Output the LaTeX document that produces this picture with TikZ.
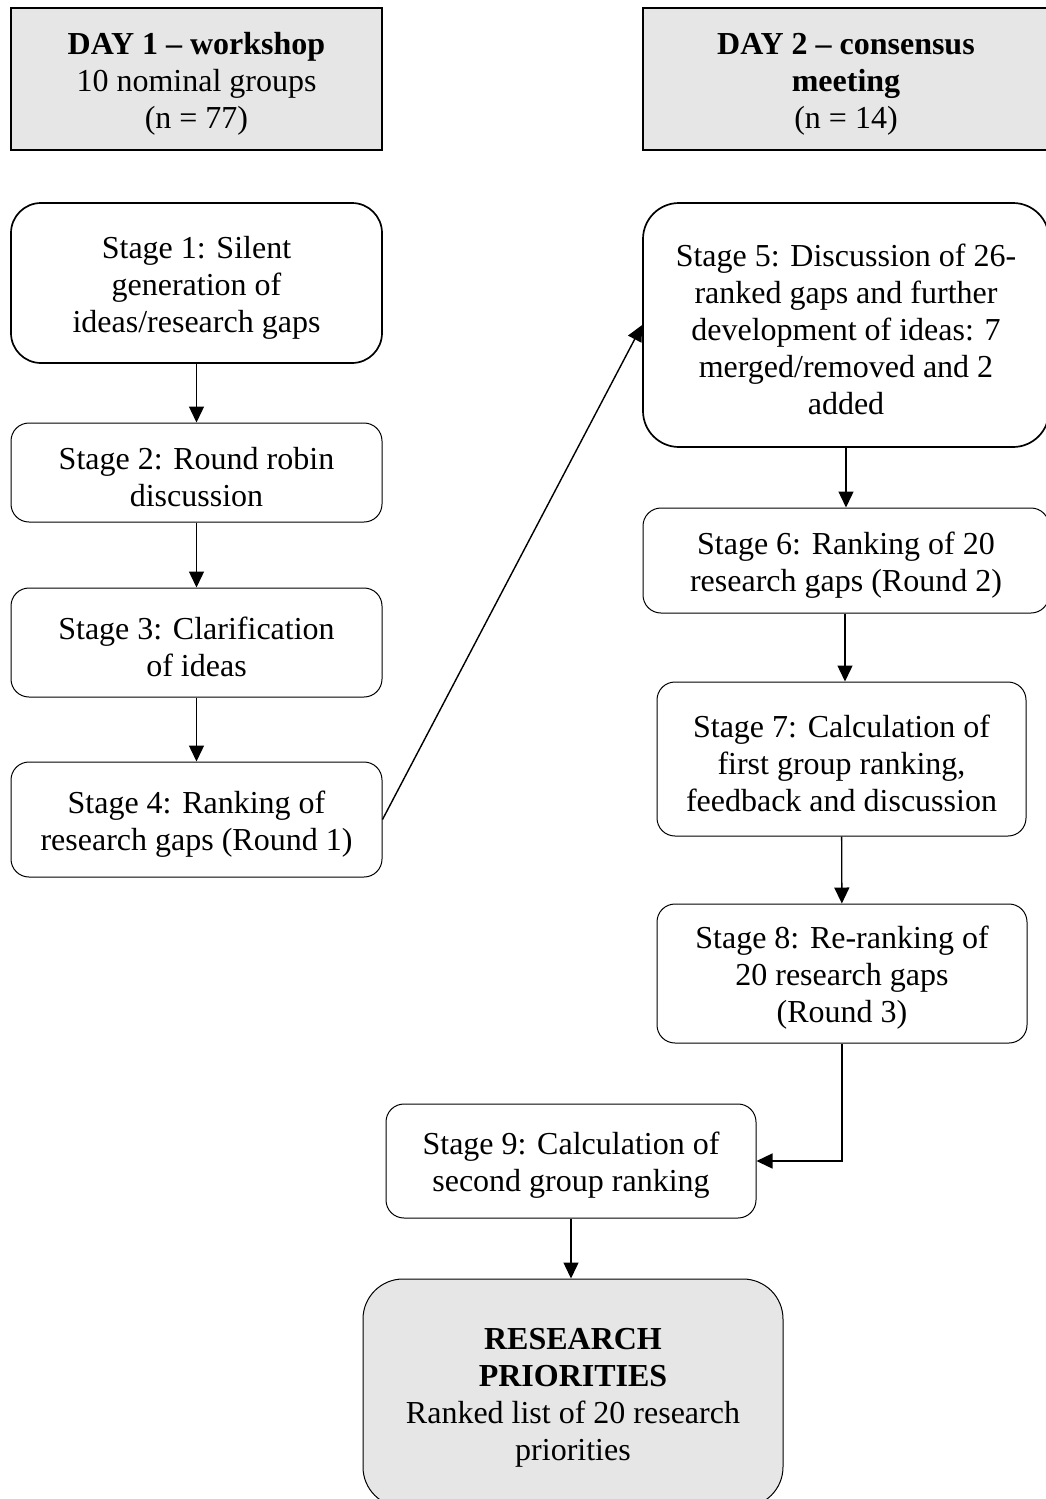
\documentclass[tikz,border=0pt]{standalone}
\usepackage{fontspec}
\setmainfont{Liberation Serif}
\usetikzlibrary{arrows.meta}
\definecolor{boxgray}{RGB}{230,230,230}
\newcommand\tstr{\rule{0pt}{31pt}}
\begin{document}
\begin{tikzpicture}[x=1pt,y=-1pt,
  base/.style={draw, align=center, inner sep=0pt, font=\fontsize{32}{37}\selectfont, line width=1pt},
  header/.style={base, fill=boxgray, line width=1.4pt},
  stagebox/.style={base, rounded corners=18pt},
  bigstage/.style={base, rounded corners=32pt, line width=1.7pt},
  result/.style={base, fill=boxgray, rounded corners=40pt},
  arr/.style={-{Triangle[width=15pt,length=16pt]}, line width=1.4pt},
]
\useasboundingbox (0,0) rectangle (1045,1499);

\node[header, minimum width=371pt, minimum height=142pt] (d1) at (196.5,79)
  {\tstr\textbf{DAY 1 – workshop}\\10 nominal groups\\(n = 77)};
\node[header, minimum width=406pt, minimum height=142pt] (d2) at (846,79)
  {\tstr\textbf{DAY 2 – consensus}\\\textbf{meeting}\\(n = 14)};

\node[bigstage, rounded corners=30pt, minimum width=371pt, minimum height=160pt] (s1) at (196.5,283)
  {\tstr Stage 1: Silent\\generation of\\ideas/research gaps};
\node[stagebox, minimum width=371pt, minimum height=99pt] (s2) at (196.5,472.5)
  {\tstr Stage 2: Round robin\\discussion};
\node[stagebox, minimum width=371pt, minimum height=109pt] (s3) at (196.5,642.5)
  {\tstr Stage 3: Clarification\\of ideas};
\node[stagebox, minimum width=371pt, minimum height=115pt] (s4) at (196.5,819.5)
  {\tstr Stage 4: Ranking of\\research gaps (Round 1)};

\node[bigstage, rounded corners=36pt, minimum width=406pt, minimum height=244pt] (s5) at (846,325)
  {\tstr Stage 5: Discussion of 26-\\ranked gaps and further\\development of ideas: 7\\merged/removed and 2\\added};
\node[stagebox, minimum width=406pt, minimum height=105pt] (s6) at (846,560.5)
  {\tstr Stage 6: Ranking of 20\\research gaps (Round 2)};
\node[stagebox, minimum width=369pt, minimum height=154pt] (s7) at (841.5,759)
  {\tstr Stage 7: Calculation of\\first group ranking,\\feedback and discussion};
\node[stagebox, minimum width=370pt, minimum height=139pt] (s8) at (842,973.5)
  {\tstr Stage 8: Re-ranking of\\20 research gaps\\(Round 3)};
\node[stagebox, minimum width=370pt, minimum height=114pt] (s9) at (571,1161)
  {\tstr Stage 9: Calculation of\\second group ranking};
\node[result, minimum width=420pt, minimum height=228pt] (rp) at (573,1393)
  {\tstr\textbf{RESEARCH}\\\textbf{PRIORITIES}\\Ranked list of 20 research\\priorities};

\draw[arr] (s1) -- (s2);
\draw[arr] (s2) -- (s3);
\draw[arr] (s3) -- (s4);
\draw[arr] (s4.east) -- (s5.west);
\draw[arr] (s5) -- (s6);
\draw[arr] ([xshift=-1pt]s6.south) -- ([xshift=-1pt]s6.south |- s7.north);
\draw[arr] (s7) -- (s8);
\draw[arr] (s8.south) |- (s9.east);
\draw[arr] (s9.south) -- (s9.south |- rp.north);
\end{tikzpicture}
\end{document}
